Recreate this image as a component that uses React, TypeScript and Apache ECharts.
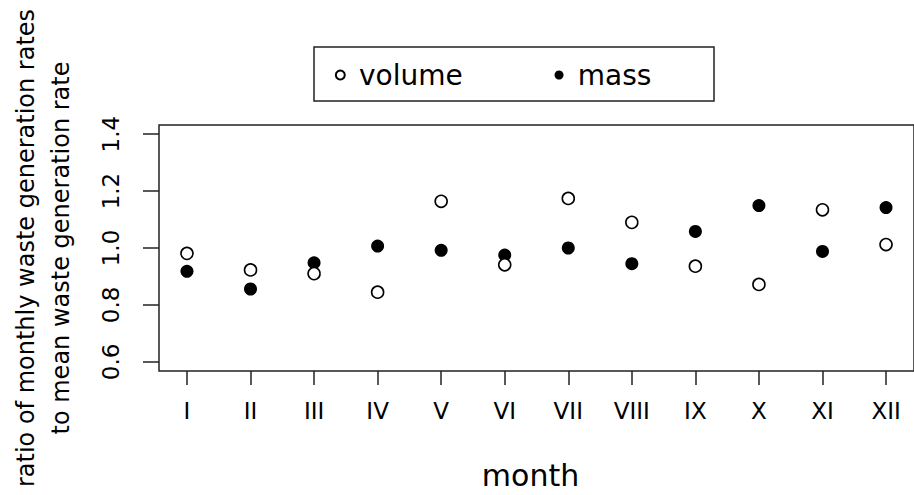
import React, { useEffect, useRef } from "react";
import * as echarts from "echarts";

const months = ["I", "II", "III", "IV", "V", "VI", "VII", "VIII", "IX", "X", "XI", "XII"];
const volume = [0.981, 0.923, 0.910, 0.845, 1.164, 0.941, 1.174, 1.090, 0.936, 0.872, 1.134, 1.012];
const mass = [0.918, 0.856, 0.948, 1.007, 0.992, 0.975, 1.000, 0.945, 1.058, 1.149, 0.988, 1.142];
const yTicks = [0.6, 0.8, 1.0, 1.2, 1.4];
const xTicks = months.map((_, i) => i + 1);

const FONT = "DejaVu Sans";

export default function App() {
  const ref = useRef<HTMLDivElement>(null);
  useEffect(() => {
    if (!ref.current) return;
    const chart = echarts.init(ref.current, undefined, { renderer: "svg" });
    chart.setOption({
      animation: false,
      backgroundColor: "#fff",
      textStyle: { fontFamily: FONT, color: "#000" },
      grid: {
        left: 158.3,
        top: 125,
        width: 762,
        height: 251.7,
        show: true,
        borderColor: "#222",
        borderWidth: 1.5,
        backgroundColor: "transparent",
      },
      legend: {
        data: ["volume", "mass"],
        left: 334.8,
        top: 61,
        padding: 0,
        icon: "circle",
        itemWidth: 9,
        itemHeight: 9,
        itemGap: 91.8,
        textStyle: { fontSize: 28, fontFamily: FONT, color: "#000", padding: [0, 0, 0, 9.2] },
      },
      graphic: [
        {
          type: "rect",
          shape: { x: 314, y: 47, width: 400, height: 54 },
          style: { fill: "none", stroke: "#222", lineWidth: 1.5 },
          silent: true,
        },
      ],
      xAxis: {
        type: "value",
        min: 0.56,
        max: 12.44,
        name: "month",
        nameLocation: "middle",
        nameGap: 89,
        nameTextStyle: { fontSize: 30, fontFamily: FONT, color: "#000", padding: [0, 12, 0, 0] },
        axisLine: { show: false },
        splitLine: { show: false },
        axisTick: {
          show: true,
          length: 14,
          customValues: xTicks,
          lineStyle: { color: "#222", width: 1.5 },
        },
        axisLabel: {
          customValues: xTicks,
          margin: 28,
          fontSize: 23,
          fontFamily: FONT,
          color: "#000",
          formatter: (v: number) => months[Math.round(v) - 1] ?? "",
        },
      },
      yAxis: {
        type: "value",
        min: 0.568,
        max: 1.432,
        name: "ratio of monthly waste generation rates\nto mean waste generation rate",
        nameLocation: "middle",
        nameRotate: 90,
        nameGap: 81,
        nameTextStyle: { fontSize: 24, fontFamily: FONT, color: "#000", lineHeight: 35, align: "center" },
        axisLine: { show: false },
        splitLine: { show: false },
        axisTick: {
          show: true,
          length: 16,
          customValues: yTicks,
          lineStyle: { color: "#222", width: 1.5 },
        },
        axisLabel: {
          customValues: yTicks,
          rotate: 90,
          margin: 37,
          fontSize: 23,
          fontFamily: FONT,
          color: "#000",
          formatter: (v: number) => v.toFixed(1),
        },
      },
      series: [
        {
          name: "mass",
          type: "scatter",
          symbol: "circle",
          symbolSize: 13,
          itemStyle: { color: "#000", borderColor: "#000", borderWidth: 0, opacity: 1 },
          data: mass.map((v, i) => [xTicks[i], v]),
        },
        {
          name: "volume",
          type: "scatter",
          symbol: "circle",
          symbolSize: 12,
          itemStyle: { color: "#fff", borderColor: "#000", borderWidth: 1.6, opacity: 1 },
          data: volume.map((v, i) => [xTicks[i], v]),
        },
      ],
    });
    return () => chart.dispose();
  }, []);
  return (
    <div
      ref={ref}
      style={{ position: "absolute", left: 0, top: 0, width: 914, height: 495 }}
    />
  );
}
